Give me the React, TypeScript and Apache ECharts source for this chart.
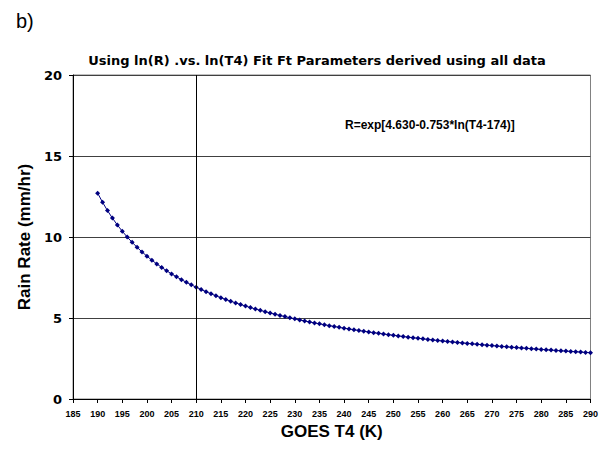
import React, { useEffect, useRef } from "react";
import * as echarts from "echarts";

const tempK: number[] = [
  190, 191, 192, 193, 194, 195, 196, 197, 198, 199, 200, 201, 202, 203, 204, 205, 206, 207, 208, 209,
  210, 211, 212, 213, 214, 215, 216, 217, 218, 219, 220, 221, 222, 223, 224, 225, 226, 227, 228, 229,
  230, 231, 232, 233, 234, 235, 236, 237, 238, 239, 240, 241, 242, 243, 244, 245, 246, 247, 248, 249,
  250, 251, 252, 253, 254, 255, 256, 257, 258, 259, 260, 261, 262, 263, 264, 265, 266, 267, 268, 269,
  270, 271, 272, 273, 274, 275, 276, 277, 278, 279, 280, 281, 282, 283, 284, 285, 286, 287, 288, 289,
  290,
];

const rainRate: number[] = [
  12.708, 12.141, 11.63, 11.166, 10.743, 10.355, 9.999, 9.67, 9.364, 9.081,
  8.817, 8.57, 8.338, 8.121, 7.916, 7.723, 7.541, 7.368, 7.204, 7.049,
  6.901, 6.76, 6.625, 6.497, 6.374, 6.257, 6.144, 6.037, 5.933, 5.833,
  5.738, 5.645, 5.557, 5.471, 5.388, 5.309, 5.232, 5.157, 5.085, 5.015,
  4.948, 4.882, 4.819, 4.757, 4.697, 4.639, 4.583, 4.528, 4.474, 4.422,
  4.372, 4.323, 4.275, 4.228, 4.182, 4.138, 4.095, 4.052, 4.011, 3.971,
  3.931, 3.893, 3.855, 3.818, 3.782, 3.747, 3.713, 3.679, 3.646, 3.614,
  3.582, 3.551, 3.52, 3.49, 3.461, 3.433, 3.405, 3.377, 3.35, 3.323,
  3.297, 3.271, 3.246, 3.222, 3.197, 3.173, 3.15, 3.127, 3.104, 3.082,
  3.06, 3.038, 3.017, 2.996, 2.976, 2.956, 2.936, 2.916, 2.897, 2.878,
  2.859,
];

const referenceLineX: number[] = [210];
const xRange: number[] = [185, 290, 5];
const yRange: number[] = [0, 20, 5];

const panelLabel = "b)";
const chartTitle = "Using ln(R) .vs. ln(T4) Fit Ft Parameters derived using all data";
const equationText = "R=exp[4.630-0.753*ln(T4-174)]";
const xAxisName = "GOES T4 (K)";
const yAxisName = "Rain Rate (mm/hr)";

export default function App() {
  const ref = useRef<HTMLDivElement>(null);

  useEffect(() => {
    document.body.style.margin = "0";
    if (!ref.current) return;
    const chart = echarts.init(ref.current, undefined, { renderer: "svg" });
    const arial = "'Liberation Sans', Arial, sans-serif";
    const dejavu = "'DejaVu Sans', sans-serif";
    const data = tempK.map((t, i) => [t, rainRate[i]]);

    chart.setOption({
      animation: false,
      backgroundColor: "#ffffff",
      textStyle: { fontFamily: arial },
      title: [
        {
          text: panelLabel,
          left: 11,
          top: 6,
          textStyle: { fontSize: 20, fontWeight: "normal", color: "#000", fontFamily: arial },
        },
        {
          text: chartTitle,
          left: 312,
          textAlign: "center",
          top: 49,
          textStyle: { fontSize: 13, fontWeight: "bold", color: "#000", fontFamily: dejavu },
        },
      ],
      graphic: [
        {
          type: "text",
          left: 345,
          top: 119,
          style: {
            text: equationText,
            font: "bold 12px 'Liberation Sans', Arial, sans-serif",
            fill: "#000",
          },
        },
      ],
      grid: {
        left: 73,
        right: 9,
        top: 75,
        bottom: 50,
        show: true,
        borderColor: "#808080",
        borderWidth: 1,
        backgroundColor: "#ffffff",
      },
      xAxis: {
        type: "value",
        min: xRange[0],
        max: xRange[1],
        interval: xRange[2],
        name: xAxisName,
        nameLocation: "middle",
        nameGap: 24,
        nameTextStyle: { fontSize: 17, fontWeight: "bold", color: "#000", fontFamily: arial },
        axisLine: { show: true, lineStyle: { color: "#000", width: 1 } },
        axisTick: { show: true, inside: false, length: 4, lineStyle: { color: "#000" } },
        axisLabel: { fontSize: 9, fontWeight: "bold", color: "#000", margin: 10, fontFamily: arial },
        splitLine: { show: false },
      },
      yAxis: {
        type: "value",
        min: yRange[0],
        max: yRange[1],
        interval: yRange[2],
        name: yAxisName,
        nameLocation: "middle",
        nameGap: 34,
        nameTextStyle: { fontSize: 17, fontWeight: "bold", color: "#000", fontFamily: arial },
        axisLine: { show: true, lineStyle: { color: "#000", width: 1 } },
        axisTick: { show: true, inside: false, length: 4, lineStyle: { color: "#000" } },
        axisLabel: { fontSize: 13, fontWeight: "bold", color: "#000", margin: 11, fontFamily: dejavu },
        splitLine: { show: true, lineStyle: { color: "#404040", width: 1 } },
      },
      series: [
        {
          type: "line",
          data,
          symbol: "diamond",
          symbolSize: 5,
          showSymbol: true,
          lineStyle: { color: "#000080", width: 1 },
          itemStyle: { color: "#000080" },
          markLine: {
            silent: true,
            symbol: ["none", "none"],
            label: { show: false },
            lineStyle: { color: "#000", width: 1, type: "solid" },
            data: referenceLineX.map((x) => ({ xAxis: x })),
          },
        },
      ],
    });

    return () => chart.dispose();
  }, []);

  return (
    <div
      ref={ref}
      style={{ width: 601, height: 449, position: "absolute", left: 0, top: 0 }}
    />
  );
}
